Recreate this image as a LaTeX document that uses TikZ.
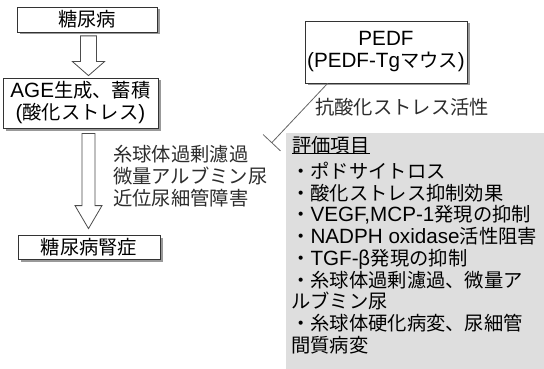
\documentclass[tikz,border=0pt]{standalone}
\usepackage{fontspec}
\setmainfont{Noto Sans CJK JP}
\newfontfamily\lat[Scale=1.07]{Liberation Sans}
\usetikzlibrary{calc,arrows.meta,shadows}
\definecolor{boxgray}{RGB}{222,222,222}
\definecolor{txt}{RGB}{45,45,45}
\begin{document}
\begin{tikzpicture}[x=1pt,y=-1pt,
  font=\fontsize{19.3}{22}\selectfont,
  box/.style={draw=black!80, line width=0.8pt, fill=white, inner sep=0pt,
    drop shadow={shadow xshift=2.5pt,shadow yshift=-2.5pt,fill=black!40,opacity=1}},
  hollow/.style={draw=black!70, line width=0.8pt, fill=white, line join=miter},
  lbl/.style={anchor=base west, inner sep=0pt, text=txt},
  item/.style={anchor=base west, inner sep=0pt, text=black},
  inhib/.style={draw=black!60, line width=0.8pt, -{Bar[width=24pt,line width=0.8pt]}}]
\useasboundingbox (0,0) rectangle (544,369);
\fill[white] (0,0) rectangle (544,369);
% boxes
\node[box, minimum width=140pt, minimum height=25pt] (dm) at (87,19.5) {糖尿病};
\node[box, minimum width=155pt, minimum height=50pt, align=center] (age) at (80.5,103) {{\lat AGE}生成、蓄積\\{\lat(}酸化ストレス{\lat)}};
\node[box, minimum width=142pt, minimum height=24pt] (dn) at (89,247) {糖尿病腎症};
\node[box, minimum width=162pt, minimum height=62pt, align=center] (pedf) at (386,52) {{\lat PEDF}\\{\lat(PEDF-Tg}マウス{\lat)}};
% block arrows
\coordinate (a1s) at ($(dm.south)+(1.5,3.5)$);
\coordinate (a1e) at ($(age.north)+(8,-2)$);
\draw[hollow] ($(a1s)+(-8,0)$) -- ($(a1s)+(8,0)$) -- ($(a1e)+(8,-14)$) -- ($(a1e)+(16,-14)$) -- (a1e) -- ($(a1e)+(-16,-14)$) -- ($(a1e)+(-8,-14)$) -- cycle;
\coordinate (a2s) at ($(age.south)+(8,5)$);
\coordinate (a2e) at ($(dn.north)+(-0.5,-6)$);
\draw[hollow] ($(a2s)+(-6.5,0)$) -- ($(a2s)+(6.5,0)$) -- ($(a2e)+(6.5,-23)$) -- ($(a2e)+(13.5,-23)$) -- (a2e) -- ($(a2e)+(-13.5,-23)$) -- ($(a2e)+(-6.5,-23)$) -- cycle;
% left labels
\node[lbl] (l1) at (113,161) {糸球体過剰濾過};
\node[lbl] (l2) at (113,183) {微量アルブミン尿};
\node[lbl] (l3) at (113,205) {近位尿細管障害};
% gray panel
\fill[boxgray] (286,133) rectangle (544,369);
% inhibition
\coordinate (inh) at (271.5,143);
\draw[inhib] ($(pedf.south west)+(23,0)$) -- (inh);
\node[lbl] (anti) at (315,114) {抗酸化ストレス活性};
% items
\node[item] (h) at (292,152) {評価項目};
\draw[line width=0.7pt] ($(h.base west)+(0,1.8)$) -- ($(h.base east)+(0,1.8)$);
\node[item] (i1) at (291,178.5) {・ポドサイトロス};
\node[item] (i2) at (291,200.2) {・酸化ストレス抑制効果};
\node[item] (i3) at (291,221.9) {・{\lat VEGF,MCP-1}発現の抑制};
\node[item] (i4) at (291,243.6) {・{\lat NADPH oxidase}活性阻害};
\node[item] (i5) at (291,265.3) {・{\lat TGF-}β発現の抑制};
\node[item] (i6) at (291,287) {・糸球体過剰濾過、微量ア};
\node[item] (i7) at (291,308.7) {ルブミン尿};
\node[item] (i8) at (291,330.4) {・糸球体硬化病変、尿細管};
\node[item] (i9) at (291,352.1) {間質病変};
\end{tikzpicture}
\end{document}
